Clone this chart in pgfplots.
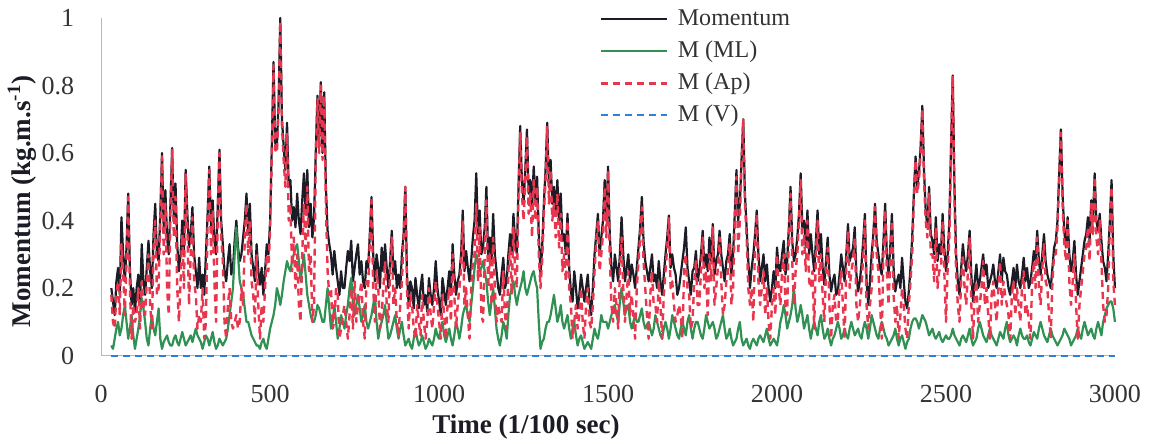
\documentclass[border=0pt]{standalone}
\usepackage{fontspec}
\setmainfont{Liberation Serif}
\usepackage{pgfplots}
\usepackage{pgfplotstable}
\pgfplotsset{compat=1.18}

\definecolor{mblack}{HTML}{1C1C26}
\definecolor{mgreen}{HTML}{2F9152}
\definecolor{mred}{HTML}{E8364F}
\definecolor{mblue}{HTML}{2F7FD8}
\definecolor{axisblue}{HTML}{A9B9D1}
\definecolor{ticktext}{HTML}{333333}

% time (1/100 s), total momentum, medio-lateral and antero-posterior components
\pgfplotstableread{
t M ML Ap
30 0.20 0.03 0.18
35 0.16 0.02 0.10
40 0.12 0.05 0.08
45 0.22 0.08 0.18
50 0.26 0.10 0.22
55 0.18 0.06 0.12
60 0.41 0.08 0.33
65 0.30 0.12 0.25
70 0.22 0.15 0.12
75 0.32 0.10 0.28
80 0.48 0.05 0.47
85 0.26 0.08 0.20
90 0.15 0.12 0.05
95 0.20 0.06 0.15
100 0.13 0.02 0.10
105 0.20 0.05 0.12
110 0.24 0.08 0.20
115 0.15 0.12 0.08
120 0.33 0.17 0.22
125 0.22 0.14 0.15
130 0.18 0.10 0.12
135 0.26 0.05 0.22
140 0.34 0.03 0.30
145 0.25 0.08 0.15
150 0.20 0.12 0.08
155 0.36 0.08 0.32
160 0.45 0.06 0.40
165 0.30 0.10 0.18
170 0.28 0.14 0.20
175 0.42 0.05 0.40
180 0.60 0.02 0.59
185 0.38 0.04 0.30
190 0.49 0.05 0.45
195 0.35 0.06 0.20
200 0.30 0.04 0.12
205 0.45 0.03 0.42
210 0.615 0.03 0.61
215 0.40 0.05 0.35
220 0.51 0.06 0.47
225 0.33 0.04 0.20
230 0.25 0.03 0.10
235 0.30 0.05 0.22
240 0.40 0.07 0.36
245 0.30 0.05 0.20
250 0.55 0.03 0.54
255 0.42 0.04 0.38
260 0.32 0.05 0.15
265 0.36 0.06 0.30
270 0.44 0.04 0.41
275 0.30 0.06 0.22
280 0.25 0.08 0.18
285 0.20 0.06 0.08
290 0.29 0.05 0.12
295 0.20 0.04 0.10
300 0.24 0.02 0.20
305 0.18 0.04 0.05
310 0.30 0.06 0.10
315 0.42 0.05 0.40
320 0.56 0.03 0.55
325 0.38 0.05 0.30
330 0.46 0.07 0.43
335 0.34 0.04 0.22
340 0.30 0.02 0.10
345 0.44 0.03 0.42
350 0.61 0.05 0.60
355 0.40 0.04 0.35
360 0.33 0.03 0.28
365 0.25 0.04 0.10
370 0.22 0.05 0.05
375 0.28 0.08 0.15
380 0.33 0.12 0.20
385 0.24 0.16 0.10
390 0.26 0.20 0.08
395 0.34 0.30 0.10
400 0.40 0.38 0.12
405 0.32 0.30 0.08
410 0.28 0.22 0.10
415 0.30 0.20 0.20
420 0.35 0.18 0.15
425 0.40 0.14 0.35
430 0.48 0.10 0.45
435 0.36 0.10 0.30
440 0.45 0.08 0.40
445 0.30 0.06 0.22
450 0.26 0.05 0.18
455 0.22 0.04 0.10
460 0.33 0.03 0.30
465 0.25 0.03 0.15
470 0.21 0.02 0.05
475 0.26 0.04 0.15
480 0.18 0.05 0.10
485 0.25 0.03 0.20
490 0.33 0.02 0.30
495 0.30 0.05 0.25
500 0.40 0.08 0.38
505 0.62 0.10 0.60
510 0.87 0.12 0.86
515 0.63 0.15 0.61
520 0.62 0.20 0.60
525 0.75 0.18 0.73
530 1.00 0.15 0.99
535 0.70 0.18 0.68
540 0.62 0.22 0.58
545 0.55 0.25 0.50
550 0.69 0.28 0.66
555 0.50 0.26 0.40
560 0.52 0.25 0.45
565 0.40 0.28 0.25
570 0.44 0.30 0.35
575 0.38 0.32 0.20
580 0.48 0.33 0.30
585 0.40 0.28 0.15
590 0.36 0.22 0.10
595 0.46 0.26 0.30
600 0.54 0.30 0.45
605 0.42 0.24 0.30
610 0.55 0.18 0.50
615 0.38 0.15 0.25
620 0.45 0.12 0.30
625 0.35 0.10 0.10
630 0.41 0.10 0.15
635 0.60 0.12 0.58
640 0.77 0.15 0.76
645 0.62 0.14 0.60
650 0.81 0.12 0.80
655 0.60 0.10 0.58
660 0.78 0.10 0.77
665 0.50 0.15 0.45
670 0.37 0.20 0.25
675 0.33 0.14 0.18
680 0.30 0.08 0.20
685 0.24 0.10 0.08
690 0.31 0.15 0.10
695 0.26 0.10 0.20
700 0.22 0.05 0.18
705 0.18 0.08 0.05
710 0.25 0.12 0.08
715 0.20 0.10 0.12
720 0.20 0.08 0.15
725 0.26 0.12 0.10
730 0.31 0.15 0.05
735 0.28 0.20 0.12
740 0.34 0.23 0.20
745 0.22 0.16 0.08
750 0.26 0.12 0.22
755 0.30 0.15 0.10
760 0.33 0.18 0.15
765 0.24 0.14 0.18
770 0.28 0.10 0.22
775 0.22 0.12 0.10
780 0.20 0.15 0.05
785 0.28 0.10 0.22
790 0.26 0.08 0.20
795 0.36 0.10 0.34
800 0.47 0.12 0.46
805 0.30 0.15 0.20
810 0.22 0.18 0.10
815 0.30 0.10 0.25
820 0.26 0.05 0.20
825 0.20 0.08 0.08
830 0.32 0.10 0.12
835 0.25 0.12 0.20
840 0.33 0.15 0.28
845 0.26 0.10 0.15
850 0.20 0.05 0.10
855 0.28 0.06 0.25
860 0.37 0.08 0.35
865 0.24 0.10 0.15
870 0.28 0.12 0.20
875 0.20 0.08 0.10
880 0.24 0.05 0.06
885 0.20 0.08 0.15
890 0.30 0.10 0.22
895 0.36 0.06 0.35
900 0.50 0.03 0.50
905 0.24 0.04 0.20
910 0.15 0.05 0.08
915 0.22 0.03 0.18
920 0.20 0.02 0.15
925 0.14 0.05 0.08
930 0.23 0.08 0.05
935 0.18 0.05 0.15
940 0.14 0.03 0.10
945 0.20 0.04 0.06
950 0.24 0.06 0.18
955 0.15 0.04 0.10
960 0.18 0.02 0.05
965 0.13 0.03 0.10
970 0.23 0.05 0.20
975 0.18 0.04 0.12
980 0.15 0.03 0.08
985 0.20 0.05 0.15
990 0.28 0.08 0.22
995 0.20 0.06 0.15
1000 0.16 0.05 0.10
1005 0.12 0.08 0.05
1010 0.23 0.10 0.18
1015 0.19 0.06 0.12
1020 0.15 0.04 0.05
1025 0.20 0.06 0.15
1030 0.25 0.08 0.20
1035 0.18 0.05 0.10
1040 0.33 0.03 0.30
1045 0.24 0.06 0.18
1050 0.18 0.10 0.08
1055 0.22 0.08 0.15
1060 0.24 0.05 0.20
1065 0.30 0.08 0.26
1070 0.43 0.12 0.40
1075 0.25 0.14 0.15
1080 0.31 0.15 0.20
1085 0.26 0.12 0.12
1090 0.22 0.10 0.05
1095 0.28 0.15 0.20
1100 0.35 0.20 0.28
1105 0.40 0.26 0.30
1110 0.54 0.30 0.45
1115 0.36 0.28 0.22
1120 0.43 0.25 0.38
1125 0.30 0.26 0.12
1130 0.32 0.28 0.10
1135 0.38 0.25 0.30
1140 0.50 0.22 0.46
1145 0.30 0.16 0.20
1150 0.35 0.12 0.30
1155 0.28 0.16 0.15
1160 0.42 0.20 0.35
1165 0.30 0.14 0.20
1170 0.25 0.08 0.10
1175 0.20 0.05 0.15
1180 0.18 0.03 0.12
1185 0.24 0.06 0.10
1190 0.29 0.10 0.25
1195 0.20 0.08 0.12
1200 0.22 0.05 0.08
1205 0.30 0.12 0.25
1210 0.36 0.18 0.32
1215 0.30 0.20 0.18
1220 0.42 0.22 0.38
1225 0.34 0.18 0.25
1230 0.30 0.15 0.20
1235 0.50 0.18 0.48
1240 0.68 0.20 0.66
1245 0.52 0.22 0.48
1250 0.45 0.25 0.40
1255 0.55 0.20 0.52
1260 0.67 0.18 0.65
1265 0.48 0.20 0.42
1270 0.52 0.22 0.48
1275 0.44 0.24 0.35
1280 0.56 0.25 0.52
1285 0.46 0.22 0.40
1290 0.53 0.20 0.50
1295 0.36 0.10 0.30
1300 0.24 0.02 0.20
1305 0.32 0.04 0.28
1310 0.45 0.05 0.42
1315 0.55 0.08 0.52
1320 0.69 0.10 0.68
1325 0.50 0.10 0.45
1330 0.58 0.12 0.55
1335 0.45 0.15 0.40
1340 0.50 0.18 0.45
1345 0.42 0.14 0.35
1350 0.52 0.10 0.48
1355 0.40 0.12 0.32
1360 0.48 0.15 0.42
1365 0.34 0.10 0.25
1370 0.36 0.08 0.30
1375 0.30 0.10 0.22
1380 0.42 0.12 0.40
1385 0.26 0.08 0.20
1390 0.19 0.05 0.15
1395 0.16 0.08 0.05
1400 0.25 0.10 0.10
1405 0.20 0.06 0.15
1410 0.14 0.03 0.08
1415 0.18 0.05 0.12
1420 0.24 0.06 0.20
1425 0.20 0.04 0.10
1430 0.16 0.02 0.05
1435 0.20 0.03 0.15
1440 0.24 0.04 0.20
1445 0.16 0.03 0.10
1450 0.12 0.02 0.08
1455 0.20 0.05 0.15
1460 0.30 0.08 0.25
1465 0.36 0.06 0.34
1470 0.42 0.05 0.40
1475 0.30 0.08 0.25
1480 0.35 0.12 0.30
1485 0.40 0.10 0.36
1490 0.52 0.10 0.50
1495 0.40 0.10 0.35
1500 0.56 0.08 0.55
1505 0.36 0.10 0.30
1510 0.26 0.12 0.15
1515 0.22 0.14 0.10
1520 0.30 0.15 0.20
1525 0.26 0.12 0.15
1530 0.22 0.10 0.08
1535 0.30 0.16 0.25
1540 0.41 0.20 0.35
1545 0.30 0.16 0.20
1550 0.22 0.12 0.10
1555 0.26 0.14 0.18
1560 0.30 0.15 0.25
1565 0.22 0.10 0.12
1570 0.27 0.08 0.18
1575 0.24 0.10 0.12
1580 0.20 0.12 0.05
1585 0.26 0.10 0.20
1590 0.32 0.10 0.28
1595 0.38 0.12 0.35
1600 0.47 0.14 0.44
1605 0.34 0.10 0.28
1610 0.28 0.08 0.20
1615 0.25 0.09 0.12
1620 0.22 0.10 0.05
1625 0.26 0.08 0.18
1630 0.30 0.06 0.25
1635 0.22 0.08 0.15
1640 0.24 0.12 0.15
1645 0.20 0.10 0.10
1650 0.28 0.08 0.22
1655 0.22 0.06 0.15
1660 0.18 0.05 0.05
1665 0.24 0.08 0.18
1670 0.30 0.10 0.25
1675 0.35 0.08 0.32
1680 0.415 0.05 0.41
1685 0.26 0.08 0.20
1690 0.30 0.12 0.22
1695 0.26 0.10 0.15
1700 0.24 0.08 0.10
1705 0.18 0.06 0.12
1710 0.20 0.05 0.15
1715 0.24 0.08 0.12
1720 0.28 0.10 0.05
1725 0.32 0.08 0.25
1730 0.38 0.06 0.30
1735 0.26 0.10 0.20
1740 0.22 0.12 0.18
1745 0.18 0.08 0.08
1750 0.25 0.05 0.10
1755 0.26 0.08 0.22
1760 0.31 0.10 0.28
1765 0.22 0.10 0.15
1770 0.25 0.08 0.15
1775 0.30 0.06 0.25
1780 0.37 0.05 0.35
1785 0.26 0.08 0.20
1790 0.30 0.12 0.25
1795 0.25 0.10 0.12
1800 0.35 0.08 0.30
1805 0.28 0.09 0.22
1810 0.39 0.10 0.38
1815 0.24 0.08 0.15
1820 0.28 0.05 0.20
1825 0.30 0.06 0.26
1830 0.37 0.08 0.35
1835 0.30 0.10 0.22
1840 0.26 0.12 0.12
1845 0.22 0.08 0.15
1850 0.28 0.05 0.22
1855 0.30 0.06 0.25
1860 0.36 0.08 0.33
1865 0.24 0.05 0.15
1870 0.30 0.03 0.20
1875 0.42 0.04 0.40
1880 0.55 0.05 0.53
1885 0.40 0.08 0.30
1890 0.45 0.10 0.40
1895 0.58 0.05 0.57
1900 0.70 0.03 0.70
1905 0.48 0.04 0.45
1910 0.38 0.05 0.35
1915 0.28 0.03 0.20
1920 0.20 0.02 0.15
1925 0.26 0.04 0.20
1930 0.30 0.05 0.10
1935 0.36 0.04 0.34
1940 0.43 0.03 0.42
1945 0.30 0.05 0.22
1950 0.22 0.06 0.15
1955 0.26 0.05 0.20
1960 0.30 0.04 0.25
1965 0.22 0.06 0.12
1970 0.27 0.08 0.20
1975 0.20 0.05 0.10
1980 0.16 0.03 0.05
1985 0.20 0.04 0.15
1990 0.25 0.05 0.20
1995 0.20 0.04 0.12
2000 0.32 0.03 0.30
2005 0.26 0.06 0.20
2010 0.25 0.10 0.15
2015 0.30 0.12 0.25
2020 0.34 0.15 0.30
2025 0.24 0.12 0.15
2030 0.28 0.08 0.12
2035 0.38 0.10 0.36
2040 0.50 0.12 0.48
2045 0.34 0.15 0.28
2050 0.28 0.20 0.15
2055 0.30 0.14 0.25
2060 0.35 0.10 0.30
2065 0.42 0.12 0.40
2070 0.54 0.15 0.52
2075 0.38 0.12 0.30
2080 0.40 0.08 0.36
2085 0.32 0.10 0.25
2090 0.43 0.12 0.40
2095 0.30 0.08 0.22
2100 0.36 0.05 0.20
2105 0.30 0.08 0.25
2110 0.25 0.10 0.08
2115 0.34 0.08 0.30
2120 0.43 0.06 0.40
2125 0.30 0.10 0.22
2130 0.36 0.12 0.30
2135 0.26 0.08 0.18
2140 0.21 0.05 0.10
2145 0.28 0.06 0.25
2150 0.35 0.08 0.32
2155 0.24 0.05 0.15
2160 0.19 0.03 0.05
2165 0.22 0.05 0.15
2170 0.24 0.06 0.18
2175 0.18 0.08 0.10
2180 0.19 0.10 0.10
2185 0.24 0.08 0.20
2190 0.30 0.05 0.25
2195 0.26 0.06 0.15
2200 0.22 0.08 0.05
2205 0.30 0.06 0.26
2210 0.39 0.05 0.37
2215 0.28 0.08 0.20
2220 0.30 0.10 0.25
2225 0.32 0.08 0.28
2230 0.38 0.06 0.35
2235 0.24 0.07 0.15
2240 0.19 0.08 0.10
2245 0.22 0.06 0.15
2250 0.27 0.05 0.20
2255 0.34 0.08 0.30
2260 0.42 0.10 0.40
2265 0.22 0.08 0.15
2270 0.15 0.05 0.08
2275 0.22 0.08 0.15
2280 0.30 0.12 0.20
2285 0.36 0.10 0.34
2290 0.45 0.08 0.44
2295 0.34 0.06 0.30
2300 0.30 0.05 0.25
2305 0.26 0.08 0.15
2310 0.24 0.10 0.05
2315 0.34 0.08 0.30
2320 0.45 0.06 0.43
2325 0.30 0.05 0.25
2330 0.24 0.03 0.15
2335 0.32 0.04 0.28
2340 0.42 0.05 0.40
2345 0.26 0.06 0.18
2350 0.19 0.08 0.10
2355 0.22 0.05 0.15
2360 0.24 0.03 0.05
2365 0.20 0.05 0.12
2370 0.29 0.06 0.20
2375 0.22 0.04 0.15
2380 0.16 0.02 0.08
2385 0.14 0.04 0.05
2390 0.19 0.05 0.15
2395 0.26 0.08 0.22
2400 0.35 0.10 0.30
2405 0.48 0.11 0.46
2410 0.59 0.11 0.58
2415 0.50 0.10 0.48
2420 0.54 0.08 0.52
2425 0.62 0.10 0.60
2430 0.74 0.12 0.73
2435 0.55 0.11 0.52
2440 0.43 0.10 0.40
2445 0.38 0.08 0.35
2450 0.50 0.06 0.48
2455 0.36 0.07 0.30
2460 0.34 0.08 0.30
2465 0.30 0.06 0.22
2470 0.41 0.05 0.38
2475 0.28 0.06 0.20
2480 0.33 0.07 0.25
2485 0.30 0.05 0.26
2490 0.42 0.04 0.40
2495 0.32 0.05 0.25
2500 0.25 0.06 0.10
2505 0.30 0.05 0.26
2510 0.40 0.05 0.35
2515 0.62 0.06 0.61
2520 0.83 0.08 0.83
2525 0.50 0.06 0.46
2530 0.30 0.05 0.25
2535 0.22 0.04 0.15
2540 0.18 0.03 0.10
2545 0.26 0.05 0.22
2550 0.33 0.06 0.30
2555 0.28 0.05 0.20
2560 0.25 0.04 0.15
2565 0.30 0.06 0.25
2570 0.37 0.08 0.35
2575 0.24 0.05 0.15
2580 0.16 0.03 0.05
2585 0.22 0.04 0.18
2590 0.27 0.05 0.22
2595 0.20 0.08 0.10
2600 0.22 0.10 0.15
2605 0.26 0.08 0.20
2610 0.30 0.06 0.28
2615 0.24 0.05 0.15
2620 0.27 0.04 0.20
2625 0.20 0.06 0.12
2630 0.22 0.08 0.05
2635 0.24 0.06 0.18
2640 0.27 0.05 0.22
2645 0.22 0.04 0.15
2650 0.20 0.03 0.10
2655 0.25 0.05 0.20
2660 0.30 0.07 0.28
2665 0.22 0.06 0.15
2670 0.29 0.05 0.22
2675 0.25 0.08 0.18
2680 0.24 0.10 0.15
2685 0.20 0.06 0.12
2690 0.18 0.04 0.05
2695 0.22 0.05 0.18
2700 0.26 0.06 0.22
2705 0.20 0.05 0.12
2710 0.27 0.03 0.20
2715 0.22 0.06 0.15
2720 0.20 0.08 0.10
2725 0.24 0.06 0.20
2730 0.29 0.05 0.25
2735 0.22 0.05 0.12
2740 0.26 0.06 0.15
2745 0.20 0.04 0.10
2750 0.22 0.03 0.05
2755 0.26 0.05 0.22
2760 0.31 0.07 0.28
2765 0.28 0.06 0.20
2770 0.37 0.05 0.35
2775 0.28 0.08 0.20
2780 0.24 0.10 0.15
2785 0.30 0.08 0.26
2790 0.36 0.06 0.33
2795 0.28 0.05 0.22
2800 0.24 0.04 0.20
2805 0.22 0.06 0.12
2810 0.20 0.08 0.05
2815 0.26 0.06 0.22
2820 0.32 0.05 0.30
2825 0.34 0.04 0.30
2830 0.40 0.03 0.38
2835 0.54 0.04 0.53
2840 0.67 0.05 0.66
2845 0.48 0.06 0.45
2850 0.37 0.08 0.33
2855 0.32 0.07 0.28
2860 0.41 0.06 0.40
2865 0.30 0.05 0.22
2870 0.25 0.03 0.15
2875 0.28 0.04 0.22
2880 0.34 0.05 0.30
2885 0.24 0.06 0.15
2890 0.18 0.08 0.05
2895 0.22 0.06 0.15
2900 0.26 0.05 0.20
2905 0.30 0.08 0.25
2910 0.34 0.10 0.30
2915 0.36 0.08 0.32
2920 0.41 0.06 0.38
2925 0.34 0.07 0.28
2930 0.46 0.08 0.45
2935 0.40 0.06 0.36
2940 0.54 0.05 0.53
2945 0.40 0.08 0.35
2950 0.37 0.10 0.30
2955 0.42 0.08 0.40
2960 0.34 0.06 0.28
2965 0.28 0.10 0.15
2970 0.26 0.12 0.10
2975 0.22 0.14 0.12
2980 0.30 0.15 0.20
2985 0.40 0.16 0.38
2990 0.52 0.16 0.50
2995 0.30 0.14 0.22
3000 0.20 0.10 0.15
}\momentumdata

\begin{document}
\begin{tikzpicture}
\begin{axis}[
  at={(0,0)}, anchor=south west,
  scale only axis,
  width=506pt, height=168.5pt,
  xmin=0, xmax=3000, ymin=0, ymax=1,
  axis lines=left,
  axis line style={axisblue, line width=0.6pt, -},
  xtick={0,500,...,3000},
  ytick={0,0.2,...,1},
  major tick length=0pt,
  /pgf/number format/assume math mode=true,
  /pgf/number format/set thousands separator={},
  tick label style={font=\fontsize{13}{15}\selectfont, text=ticktext},
  xticklabel style={yshift=-11pt},
  yticklabel style={xshift=-10pt},
  xlabel={Time (1/100 sec)},
  ylabel={Momentum (kg.m.s\textsuperscript{-1})},
  label style={font=\bfseries\fontsize{13.5}{16}\selectfont, text=mblack},
  xlabel style={at={(axis description cs:0.419,0)}, anchor=north, yshift=-26pt},
  ylabel style={at={(axis description cs:-0.078,0.457)}, anchor=center},
  legend style={
    at={(axis description cs:0.491,1.036)}, anchor=north west,
    draw=none, fill=none, inner sep=0pt,
    font=\fontsize{12}{14}\selectfont, text=ticktext,
    row sep=3pt,
    nodes={inner sep=1pt, text height=8.5pt, text depth=2.5pt},
  },
  legend cell align=left,
  legend image code/.code={\draw[#1] (0pt,0pt) -- (33pt,0pt); \path (37pt,0pt);},
  clip=false,
]
\addplot[mblack, line width=1.1pt, line join=round] table[x=t, y=M] {\momentumdata};
\addlegendentry{Momentum}
\addplot[mgreen, line width=1.1pt, line join=round] table[x=t, y=ML] {\momentumdata};
\addlegendentry{M (ML)}
\addplot[mred, line width=1.2pt, dash pattern=on 3.5pt off 2.5pt, line join=round] table[x=t, y=Ap] {\momentumdata};
\addlegendentry{M (Ap)}
\addplot[mblue, line width=1pt, dash pattern=on 3.5pt off 2.5pt] coordinates {(30,0) (3000,0)};
\addlegendentry{M (V)}
\end{axis}
\pgfresetboundingbox
\path (-50.5pt,-44pt) rectangle (524.5pt,177.5pt);
\end{tikzpicture}
\end{document}
